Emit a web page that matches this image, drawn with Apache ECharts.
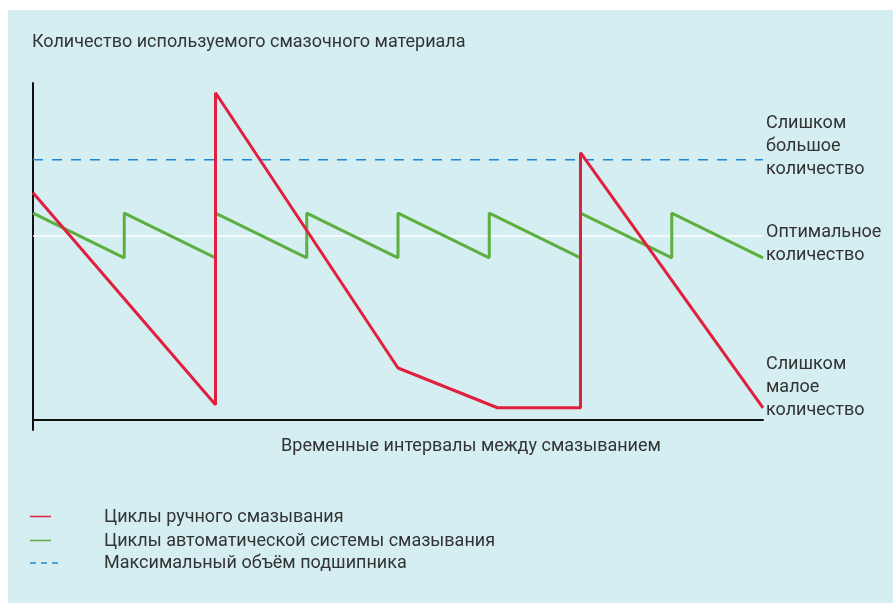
<!DOCTYPE html>
<html><head><meta charset="utf-8">
<script src="https://cdn.jsdelivr.net/npm/echarts@6/dist/echarts.min.js"></script>
<style>
html,body{margin:0;padding:0;background:#fff;}
#bg{position:absolute;left:8px;top:10px;width:885px;height:593px;background:#d5eef2;}
#main{position:absolute;left:0;top:0;width:893px;height:603px;}
</style></head>
<body><div id="bg"></div><div id="main"></div>
<script>
// Data (x: time units, y: amount of lubricant, arbitrary units)
const manualX = [0, 2, 2, 4, 5.09, 6, 6, 8];
const manualY = [67.4, 4.5, 97.1, 15.4, 3.6, 3.6, 79.3, 3.6];
const autoX = [0, 1, 1, 2, 2, 3, 3, 4, 4, 5, 5, 6, 6, 7, 7, 8];
const autoY = [61.4, 48.1, 61.4, 48.1, 61.4, 48.1, 61.4, 48.1, 61.4, 48.1, 61.4, 48.1, 61.4, 48.1, 61.4, 48.1];
const maxX = [0, 8];
const maxY = [77.2, 77.2];
const optimalLevel = 54.6;
const seriesNames = ['Циклы ручного смазывания', 'Циклы автоматической системы смазывания', 'Максимальный объём подшипника'];
const title = 'Количество используемого смазочного материала';
const xName = 'Временные интервалы между смазыванием';
const rightLabels = ['Слишком\nбольшое\nколичество', 'Оптимальное\nколичество', 'Слишком\nмалое\nколичество'];

const zip = (xs, ys) => xs.map((x, i) => [x, ys[i]]);
const FONT = 'Roboto';
const COLORS = ['#e11f3e', '#5cb040', '#1f86d6'];
const TXT = '#333';
const chart = echarts.init(document.getElementById('main'));
const lblStyle = {fill: TXT, font: '18px ' + FONT, lineHeight: 23};

// legend drawn as graphic elements
const legendRows = [516.5, 540.5, 563];
const legendGraphics = [];
seriesNames.forEach((name, i) => {
  const y = legendRows[i];
  if (i === 2) {
    legendGraphics.push({type: 'line', shape: {x1: 30, y1: y, x2: 58, y2: y},
      style: {stroke: COLORS[i], lineWidth: 1.5, lineDash: [6, 5]}});
  } else {
    legendGraphics.push({type: 'line', shape: {x1: 30, y1: y, x2: 51, y2: y},
      style: {stroke: COLORS[i], lineWidth: 1.5}});
  }
  legendGraphics.push({type: 'text', x: 104, y: y + 0.5,
    style: {text: name, fill: TXT, font: '18px ' + FONT, verticalAlign: 'middle'}});
});

chart.setOption({
  animation: false,
  textStyle: {fontFamily: FONT},
  title: {text: title, left: 27, top: 28, textStyle: {fontSize: 18, fontWeight: 'normal', color: TXT, fontFamily: FONT}},
  grid: {left: 33, right: 130, top: 83, bottom: 173},
  xAxis: {
    type: 'value', min: 0, max: 8,
    axisLine: {show: true, onZero: true, lineStyle: {color: '#111', width: 2}},
    axisTick: {show: false}, axisLabel: {show: false}, splitLine: {show: false},
    name: xName, nameLocation: 'middle', nameGap: 7,
    nameTextStyle: {fontSize: 18, color: TXT, fontFamily: FONT, padding: [0, 0, 0, 146]}
  },
  yAxis: {
    type: 'value', min: -3, max: 100,
    axisLine: {show: true, lineStyle: {color: '#111', width: 2}},
    axisTick: {show: false}, axisLabel: {show: false}, splitLine: {show: false}
  },
  graphic: [
    {type: 'text', left: 766, top: 112, style: Object.assign({text: rightLabels[0]}, lblStyle)},
    {type: 'text', left: 766, top: 221, style: Object.assign({text: rightLabels[1]}, lblStyle)},
    {type: 'text', left: 766, top: 352.5, style: Object.assign({text: rightLabels[2]}, lblStyle)}
  ].concat(legendGraphics),
  series: [
    {
      name: 'optimal', type: 'line', data: [[0, optimalLevel], [8, optimalLevel]],
      symbol: 'none', lineStyle: {color: '#ffffff', width: 1.5}, z: 1, silent: true
    },
    {
      name: seriesNames[2], type: 'line', data: zip(maxX, maxY), symbol: 'none',
      color: COLORS[2], lineStyle: {color: COLORS[2], width: 1.5, type: [10, 9]}
    },
    {
      name: seriesNames[1], type: 'line', data: zip(autoX, autoY), symbol: 'none',
      color: COLORS[1], lineStyle: {color: COLORS[1], width: 3}
    },
    {
      name: seriesNames[0], type: 'line', data: zip(manualX, manualY), symbol: 'none',
      color: COLORS[0], lineStyle: {color: COLORS[0], width: 3}, z: 3
    }
  ]
});
</script></body></html>
